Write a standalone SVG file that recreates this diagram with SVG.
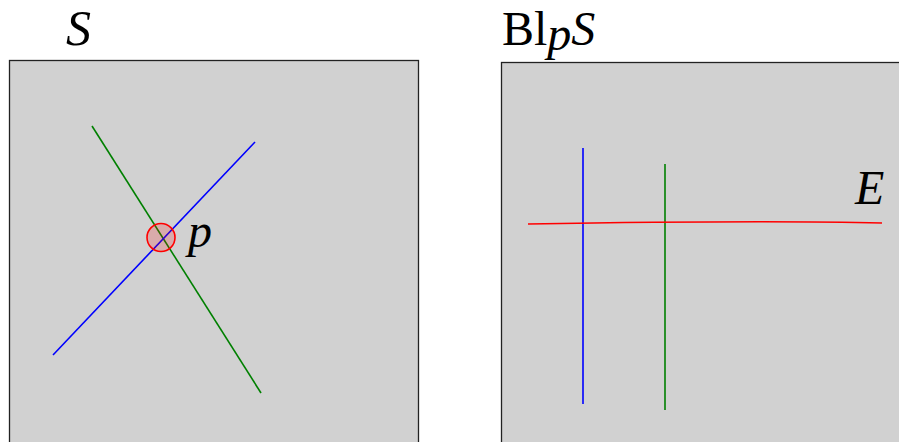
<svg xmlns="http://www.w3.org/2000/svg" width="899" height="442" viewBox="0 0 899 442">
<defs>
<style>
.panel{fill:#d1d1d1;stroke:#222;stroke-width:1.3}
.ln{fill:none;stroke-width:1.6}
</style>
</defs>
<rect width="899" height="442" fill="#fff"/>
<g id="panel-S">
<rect class="panel" x="9.5" y="60.5" width="409" height="400"/>
<text x="66" y="45" font-size="50" font-style="italic" font-family="'Liberation Serif', serif">S</text>
</g>
<g id="panel-BlpS">
<rect class="panel" x="501.5" y="62.5" width="420" height="400"/>
<text x="502" y="45" font-size="48" font-family="'Liberation Serif', serif">Bl<tspan font-style="italic" dy="5">p</tspan><tspan font-style="italic" dy="-5">S</tspan></text>
</g>
<g id="connectors">
<line class="ln" x1="92" y1="126" x2="261" y2="393" stroke="#008000"/>
<line class="ln" x1="53" y1="355" x2="255" y2="142" stroke="#0000ff"/>
<line class="ln" x1="583" y1="148" x2="583" y2="404" stroke="#0000ff"/>
<line class="ln" x1="665" y1="164" x2="665" y2="410" stroke="#008000"/>
<path class="ln" d="M528,224 C650,222 780,220.5 882,223" stroke="#ff0000"/>
</g>
<g id="point-p">
<circle cx="161" cy="237.5" r="14" fill="#ff0000" fill-opacity="0.18" stroke="#ff0000" stroke-width="1.6"/>
<text x="188" y="247" font-size="48" font-style="italic" font-family="'Liberation Serif', serif">p</text>
</g>
<g id="curve-E">
<text x="855" y="204" font-size="48" font-style="italic" font-family="'Liberation Serif', serif">E</text>
</g>
</svg>
